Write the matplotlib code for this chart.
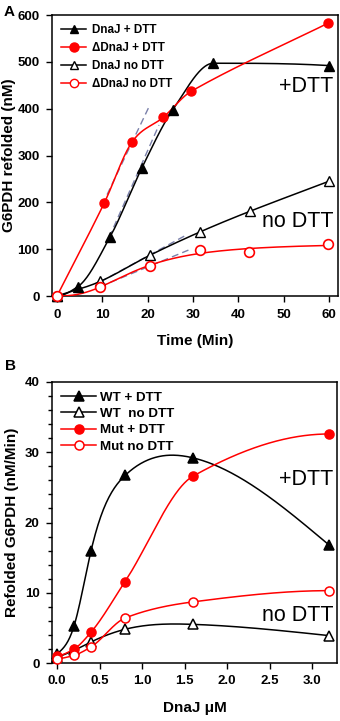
import numpy as np
import matplotlib
matplotlib.use("Agg")
import matplotlib.pyplot as plt
from matplotlib.ticker import MultipleLocator, FormatStrFormatter

plt.rcParams['font.family'] = ['Liberation Sans', 'DejaVu Sans']

# ---- panel A data: G6PDH refolded (nM) vs time (min)
t_dnaj_dtt = [0, 4.6, 11.7, 18.7, 25.5, 34.5, 60]
y_dnaj_dtt = [0, 20, 126, 273, 397, 497, 492]
t_ddnaj_dtt = [0, 10.4, 16.5, 23.5, 29.6, 59.9]
y_ddnaj_dtt = [0, 198, 328, 382, 437, 583]
t_dnaj_no = [0, 9.5, 20.5, 31.6, 42.6, 60]
y_dnaj_no = [0, 31, 87, 137, 181, 245]
t_ddnaj_no = [0, 9.5, 20.5, 31.6, 42.4, 59.9]
y_ddnaj_no = [0, 20, 63, 98.5, 93, 111]

# initial-rate tangent lines
tangents = [
    ([10, 20.5], [195, 408]),
    ([11.5, 22.5], [125, 365]),
    ([9.5, 28.5], [30, 130]),
    ([9.5, 29.0], [20, 98]),
]

# ---- panel B data: refolding rate vs DnaJ (uM)
conc = [0, 0.2, 0.4, 0.8, 1.6, 3.2]
wt_dtt = [1.3, 5.3, 16.0, 26.7, 29.2, 16.8]
wt_no = [0.8, 1.8, 3.0, 4.8, 5.5, 3.9]
mut_dtt = [1.0, 2.0, 4.4, 11.6, 26.6, 32.6]
mut_no = [0.6, 1.1, 2.3, 6.4, 8.7, 10.3]


def hermite(x, y, d, n=300):
    xs = np.linspace(x[0], x[-1], n)
    h = np.diff(x)
    k = np.clip(np.searchsorted(x, xs) - 1, 0, len(x) - 2)
    s = (xs - x[k]) / h[k]
    h00 = 2 * s ** 3 - 3 * s ** 2 + 1; h10 = s ** 3 - 2 * s ** 2 + s
    h01 = -2 * s ** 3 + 3 * s ** 2; h11 = s ** 3 - s ** 2
    return xs, h00 * y[k] + h10 * h[k] * d[k] + h01 * y[k + 1] + h11 * h[k] * d[k + 1]


def natural_spline(x, y, n=300):
    x = np.asarray(x, float); y = np.asarray(y, float)
    m = len(x); h = np.diff(x)
    A = np.zeros((m, m)); r = np.zeros(m)
    A[0, 0] = A[-1, -1] = 1
    for i in range(1, m - 1):
        A[i, i - 1] = h[i - 1]; A[i, i] = 2 * (h[i - 1] + h[i]); A[i, i + 1] = h[i]
        r[i] = 3 * ((y[i + 1] - y[i]) / h[i] - (y[i] - y[i - 1]) / h[i - 1])
    c = np.linalg.solve(A, r)
    b = (y[1:] - y[:-1]) / h - h * (2 * c[:-1] + c[1:]) / 3
    d = (c[1:] - c[:-1]) / (3 * h)
    xs = np.linspace(x[0], x[-1], n)
    k = np.clip(np.searchsorted(x, xs) - 1, 0, m - 2)
    dx = xs - x[k]
    return xs, y[k] + b[k] * dx + c[k] * dx ** 2 + d[k] * dx ** 3


def pchip(x, y, n=300):
    x = np.asarray(x, float); y = np.asarray(y, float)
    m = len(x); h = np.diff(x); dl = np.diff(y) / h
    d = np.zeros(m)
    for k in range(1, m - 1):
        if dl[k - 1] * dl[k] > 0:
            w1 = 2 * h[k] + h[k - 1]; w2 = h[k] + 2 * h[k - 1]
            d[k] = (w1 + w2) / (w1 / dl[k - 1] + w2 / dl[k])

    def end(h0, h1, d0, d1):
        v = ((2 * h0 + h1) * d0 - h0 * d1) / (h0 + h1)
        if np.sign(v) != np.sign(d0):
            return 0.0
        if np.sign(d0) != np.sign(d1) and abs(v) > 3 * abs(d0):
            return 3 * d0
        return v
    d[0] = end(h[0], h[1], dl[0], dl[1])
    d[-1] = end(h[-1], h[-2], dl[-1], dl[-2])
    return hermite(x, y, d, n)


def catmull(x, y, n=300):
    # finite-difference (Catmull-Rom style) slopes
    x = np.asarray(x, float); y = np.asarray(y, float)
    d = np.gradient(y, x, edge_order=1)
    d[1:-1] = (y[2:] - y[:-2]) / (x[2:] - x[:-2])
    return hermite(x, y, d, n)


def hill_fit(x, y, n=300):
    x = np.asarray(x, float); y = np.asarray(y, float)
    best = None
    for K in np.linspace(5, 60, 111):
        for p in np.linspace(1, 4, 61):
            f = x ** p / (K ** p + x ** p)
            a = np.sum(y * f) / np.sum(f * f)
            err = np.sum((y - a * f) ** 2)
            if best is None or err < best[0]:
                best = (err, a, K, p)
    _, a, K, p = best
    xs = np.linspace(x[0], x[-1], n)
    return xs, a * xs ** p / (K ** p + xs ** p)


RED = '#ff0000'
fig = plt.figure(figsize=(3.4, 7.21), dpi=100)
axA = fig.add_axes([52 / 340, 1 - 296 / 721, 286 / 340, 281 / 721])
axB = fig.add_axes([52 / 340, 1 - 663 / 721, 285 / 340, 281 / 721])

for ax in (axA, axB):
    for s in ax.spines.values():
        s.set_linewidth(1.1)
    ax.tick_params(direction='out', length=4, width=1, labelsize=9.5, pad=5)

# ---------------- panel A
for tx, ty in tangents:
    axA.plot(tx, ty, ls=(0, (5, 3)), color='#7a80aa', lw=1.0, zorder=2)

xs, ys = pchip(t_dnaj_dtt, y_dnaj_dtt)
axA.plot(xs, ys, color='black', lw=1.1, zorder=3)
xs, ys = catmull(t_ddnaj_dtt, y_ddnaj_dtt)
axA.plot(xs, ys, color=RED, lw=1.1, zorder=3)
xs, ys = catmull(t_dnaj_no, y_dnaj_no)
axA.plot(xs, ys, color='black', lw=1.1, zorder=3)
xs, ys = hill_fit(t_ddnaj_no, y_ddnaj_no)
axA.plot(xs, ys, color=RED, lw=1.1, zorder=3)

axA.plot(t_dnaj_dtt, y_dnaj_dtt, '^', color='black', ms=6.5, zorder=4, clip_on=False)
axA.plot(t_ddnaj_dtt, y_ddnaj_dtt, 'o', color=RED, ms=6.5, zorder=4, clip_on=False)
axA.plot(t_dnaj_no, y_dnaj_no, '^', mfc='white', mec='black', mew=1, ms=7, zorder=4, clip_on=False)
axA.plot(t_ddnaj_no, y_ddnaj_no, 'o', mfc='white', mec=RED, mew=1.2, ms=7, zorder=5, clip_on=False)

hA = [
    axA.plot([], [], '-^', color='black', ms=6, lw=1.1)[0],
    axA.plot([], [], '-o', color=RED, ms=6.5, lw=1.1)[0],
    axA.plot([], [], '-^', color='black', mfc='white', ms=6, lw=1.1)[0],
    axA.plot([], [], '-o', color=RED, mfc='white', ms=6, lw=1.1)[0],
]
axA.legend(hA, ['DnaJ + DTT', '\u0394DnaJ + DTT', 'DnaJ no DTT', '\u0394DnaJ no DTT'],
           loc='upper left', bbox_to_anchor=(0.0, 1.0), frameon=False, numpoints=1,
           handlelength=2.1, handletextpad=0.5, labelspacing=0.5, borderaxespad=0.4,
           prop={'weight': 'bold', 'size': 8.4})

axA.set_xlim(-1.1, 62)
axA.set_ylim(0, 600)
axA.xaxis.set_major_locator(MultipleLocator(10))
axA.yaxis.set_major_locator(MultipleLocator(100))
axA.set_xlabel('Time (Min)', fontsize=11, fontweight='bold', labelpad=10)
axA.set_ylabel('G6PDH refolded (nM)', fontsize=11, fontweight='bold', labelpad=1)
axA.text(60.9, 447, '+DTT', ha='right', va='center', fontsize=15.5)
axA.text(60.9, 160, 'no DTT', ha='right', va='center', fontsize=15.5)
fig.text(9 / 340, 1 - 12 / 721, 'A', ha='center', va='center', fontsize=11, fontweight='bold')

# ---------------- panel B
series = [
    (wt_dtt, 'black', '^', 'black', 'WT + DTT', natural_spline),
    (wt_no, 'black', '^', 'white', 'WT  no DTT', natural_spline),
    (mut_dtt, RED, 'o', RED, 'Mut + DTT', pchip),
    (mut_no, RED, 'o', 'white', 'Mut no DTT', pchip),
]
hB = []
for vals, col, mk, fc, lab, curve in series:
    xs, ys = curve(conc, vals)
    axB.plot(xs, ys, color=col, lw=1.1, zorder=3)
    axB.plot(conc, vals, mk, mfc=fc, mec=col, mew=1.1, ms=6.5, zorder=4, clip_on=False)
    hB.append(axB.plot([], [], '-' + mk, color=col, mfc=fc, mec=col, mew=1.1, ms=6.5, lw=1.1)[0])
axB.legend(hB, [s[4] for s in series], loc='upper left', bbox_to_anchor=(0.0, 1.0), frameon=False,
           numpoints=1, handlelength=2.6, handletextpad=0.3, labelspacing=0.3, borderaxespad=0.3,
           prop={'weight': 'bold', 'size': 9.6})

axB.set_xlim(-0.06, 3.294)
axB.set_ylim(0, 40)
axB.xaxis.set_major_locator(MultipleLocator(0.5))
axB.yaxis.set_major_locator(MultipleLocator(10))
axB.yaxis.set_minor_locator(MultipleLocator(2))
axB.tick_params(which='minor', direction='out', length=3, width=1)
axB.xaxis.set_major_formatter(FormatStrFormatter('%.1f'))
axB.set_xlabel('DnaJ \u03bcM', fontsize=11, fontweight='bold', labelpad=10)
axB.set_ylabel('Refolded G6PDH (nM/Min)', fontsize=11, fontweight='bold', labelpad=4)
axB.text(3.247, 26.1, '+DTT', ha='right', va='center', fontsize=15.5)
axB.text(3.247, 6.7, 'no DTT', ha='right', va='center', fontsize=15.5)
fig.text(10 / 340, 1 - 366 / 721, 'B', ha='center', va='center', fontsize=11, fontweight='bold')

for ax in (axA, axB):
    for lab in ax.get_xticklabels() + ax.get_yticklabels():
        lab.set_fontweight('bold')

fig.savefig('out.png', dpi=100)
